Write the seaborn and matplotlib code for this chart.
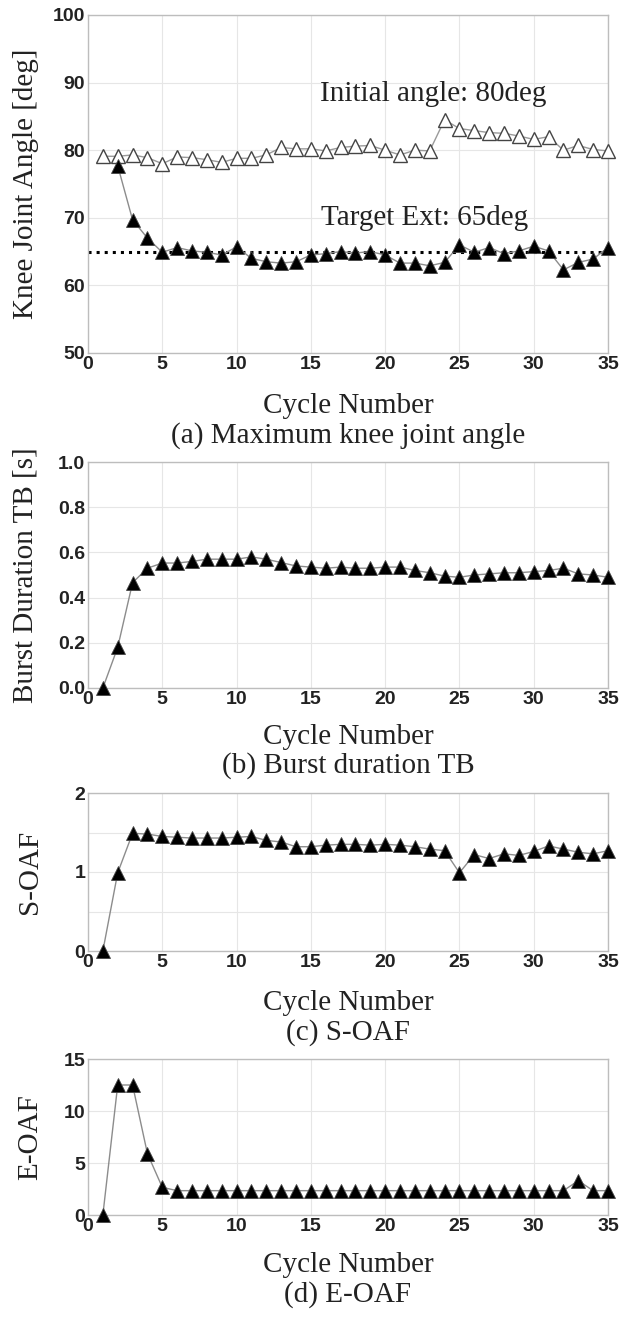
import pandas as pd
import seaborn as sns
import matplotlib.pyplot as plt

# values
cycles = list(range(1, 36))
initial_angle = [79.1, 79.1, 79.3, 78.9, 78.0, 79.0, 78.9, 78.6, 78.2, 78.8,
                 78.8, 79.3, 80.4, 80.2, 80.2, 79.9, 80.4, 80.6, 80.7, 80.0,
                 79.3, 80.0, 79.9, 84.5, 83.2, 82.9, 82.6, 82.5, 82.1, 81.6,
                 82.0, 80.0, 80.7, 80.1, 79.9]
knee_cycles = list(range(2, 36))
knee_angle = [77.7, 69.7, 67.0, 64.9, 65.6, 65.1, 64.9, 64.5, 65.7,
              64.0, 63.5, 63.3, 63.5, 64.5, 64.7, 65.0, 64.8, 65.0, 64.5,
              63.3, 63.3, 62.9, 63.4, 66.0, 64.9, 65.6, 64.7, 65.1, 65.8,
              65.1, 62.3, 63.4, 63.9, 65.6]
target_ext = 65
burst = [0.0, 0.18, 0.466, 0.53, 0.553, 0.553, 0.56, 0.57, 0.57, 0.57,
         0.58, 0.57, 0.555, 0.54, 0.535, 0.53, 0.535, 0.53, 0.53, 0.535,
         0.535, 0.52, 0.51, 0.495, 0.49, 0.50, 0.505, 0.51, 0.51, 0.515,
         0.52, 0.53, 0.505, 0.50, 0.49]
s_oaf = [0.0, 0.99, 1.49, 1.48, 1.45, 1.44, 1.43, 1.43, 1.43, 1.44,
         1.45, 1.40, 1.38, 1.32, 1.32, 1.34, 1.35, 1.35, 1.34, 1.35,
         1.34, 1.32, 1.29, 1.27, 0.99, 1.22, 1.17, 1.23, 1.21, 1.26,
         1.33, 1.29, 1.25, 1.23, 1.27]
e_oaf = [0.0, 12.5, 12.5, 5.9, 2.66, 2.34, 2.34, 2.34, 2.34, 2.34,
         2.34, 2.34, 2.34, 2.34, 2.34, 2.34, 2.34, 2.34, 2.34, 2.34,
         2.34, 2.34, 2.34, 2.34, 2.34, 2.34, 2.34, 2.34, 2.34, 2.34,
         2.34, 2.34, 3.3, 2.34, 2.34]

sns.set_style('white')
plt.rcParams['font.family'] = ['Liberation Sans', 'DejaVu Sans']
SERIF = ['Liberation Serif', 'DejaVu Serif']

W, H = 619, 1320
fig = plt.figure(figsize=(W / 100, H / 100), dpi=100)


def make_axes(top, bottom, left=88, right=608):
    return fig.add_axes([left / W, 1 - bottom / H, (right - left) / W, (bottom - top) / H])


def style_axes(ax, ylim, yticks, ylabels):
    ax.set_xlim(0, 35)
    ax.set_ylim(*ylim)
    ax.set_xticks(range(0, 36, 5))
    ax.set_yticks(yticks)
    ax.set_yticklabels(ylabels)
    ax.grid(True, color='#e6e6e6', linewidth=0.8)
    ax.set_axisbelow(True)
    for s in ax.spines.values():
        s.set_color('#bdbdbd')
        s.set_linewidth(1.0)
    ax.tick_params(direction='in', length=3, color='#bdbdbd', labelsize=14, pad=2)
    for lbl in ax.get_xticklabels() + ax.get_yticklabels():
        lbl.set_fontweight('bold')
        lbl.set_color('#222222')
    ax.set_xlabel('')
    ax.set_ylabel('')


def filled(ax, x, y):
    sns.lineplot(x=x, y=y, ax=ax, color='#8c8c8c', linewidth=1.0, marker='^',
                 markersize=10, markerfacecolor='black', markeredgecolor='#444444',
                 markeredgewidth=0.6, zorder=3, clip_on=False)


def fig_text(x, y, s, **kw):
    fig.text(x / W, 1 - y / H, s, family=SERIF, fontsize=21, ha='center', va='center',
             color='#222222', **kw)


# (a) maximum knee joint angle
ax1 = make_axes(15, 353)
sns.lineplot(x=cycles, y=initial_angle, ax=ax1, color='#9a9a9a', linewidth=1.0, marker='^',
             markersize=10, markerfacecolor='white', markeredgecolor='#444444',
             markeredgewidth=1.0, zorder=3, clip_on=False)
ax1.axhline(target_ext, color='black', linestyle=':', linewidth=2.2, zorder=2)
filled(ax1, knee_cycles, knee_angle)
ax1.text(15.6, 88.3, 'Initial angle: 80deg', family=SERIF, fontsize=21, va='center',
         color='#222222')
ax1.text(15.7, 70.0, 'Target Ext: 65deg', family=SERIF, fontsize=21, va='center',
         color='#222222')
style_axes(ax1, (50, 100), range(50, 101, 10), [str(v) for v in range(50, 101, 10)])

# (b) burst duration
ax2 = make_axes(462, 688)
filled(ax2, cycles, burst)
b_ticks = [0.0, 0.2, 0.4, 0.6, 0.8, 1.0]
style_axes(ax2, (0, 1), b_ticks, ['%.1f' % v for v in b_ticks])

# (c) S-OAF
ax3 = make_axes(793, 951)
filled(ax3, cycles, s_oaf)
style_axes(ax3, (0, 2), [0, 0.5, 1, 1.5, 2], ['0', '', '1', '', '2'])

# (d) E-OAF
ax4 = make_axes(1059, 1215)
filled(ax4, cycles, e_oaf)
style_axes(ax4, (0, 15), [0, 5, 10, 15], ['0', '5', '10', '15'])

# axis titles and captions
fig_text(348, 406, 'Cycle Number')
fig_text(348, 436, '(a) Maximum knee joint angle')
fig_text(348, 737, 'Cycle Number')
fig_text(348, 766, '(b) Burst duration TB')
fig_text(348, 1003, 'Cycle Number')
fig_text(348, 1033, '(c) S-OAF')
fig_text(348, 1265, 'Cycle Number')
fig_text(348, 1295, '(d) E-OAF')

fig_text(26, 184, 'Knee Joint Angle [deg]', rotation=90)
fig_text(26, 575, 'Burst Duration TB [s]', rotation=90)
fig_text(30, 872, 'S-OAF', rotation=90)
fig_text(30, 1137, 'E-OAF', rotation=90)

fig.savefig('out.png', dpi=100, facecolor='white')
